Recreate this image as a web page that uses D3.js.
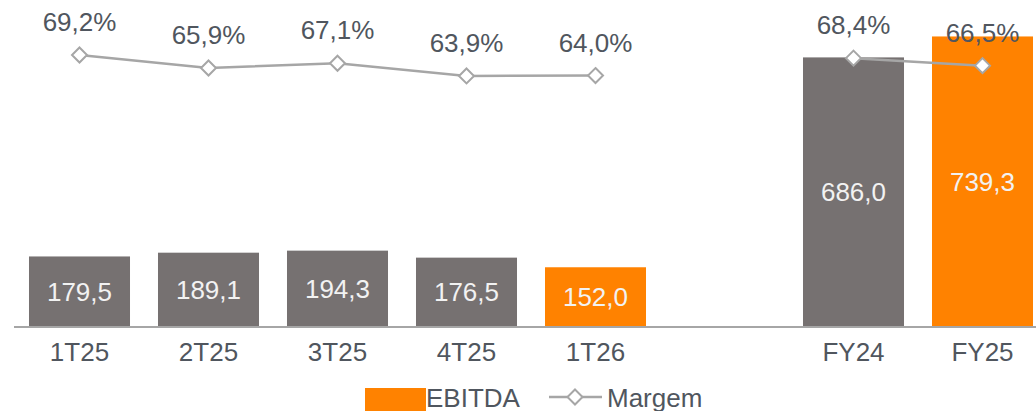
<!DOCTYPE html>
<html><head><meta charset="utf-8">
<script src="https://cdn.jsdelivr.net/npm/d3@7"></script>
<style>body{margin:0;background:#fff}svg{display:block;font-family:"Liberation Sans",Arial,sans-serif}</style>
</head><body>
<svg id="c" width="1036" height="411"></svg>
<script>
const categories = ["1T25","2T25","3T25","4T25","1T26","","FY24","FY25"];
const ebitda = [179.5,189.1,194.3,176.5,152.0,null,686.0,739.3];
const margem = [69.2,65.9,67.1,63.9,64.0,null,68.4,66.5];
const highlight = [false,false,false,false,true,false,false,true];
const labelsEbitda = ["179,5","189,1","194,3","176,5","152,0","","686,0","739,3"];
const labelsMargem = ["69,2%","65,9%","67,1%","63,9%","64,0%","","68,4%","66,5%"];
const legendLabels = ["EBITDA","Margem"];

const GRAY="#767171", ORANGE="#FF8200", LINE="#A6A6A6", TXT="#50565E", FS=26;
const svg = d3.select("#c");
const x = d3.scaleBand().domain(categories).range([15,1047]).paddingInner(0.217).paddingOuter(0.1085);
const y = d3.scaleLinear().domain([0,800]).range([327,12.6]);
const y2 = d3.scaleLinear().domain([60,70]).range([91.4,51.8]);
const data = categories.map((c,i)=>({c,v:ebitda[i],m:margem[i],h:highlight[i],lv:labelsEbitda[i],lm:labelsMargem[i]})).filter(d=>d.v!=null);

svg.selectAll("rect.bar").data(data).join("rect").attr("class","bar")
  .attr("x",d=>x(d.c)).attr("width",x.bandwidth())
  .attr("y",d=>y(d.v)).attr("height",d=>y(0)-y(d.v))
  .attr("fill",d=>d.h?ORANGE:GRAY);

svg.append("line").attr("x1",14).attr("x2",1036).attr("y1",y(0)).attr("y2",y(0))
  .attr("stroke","#A6A6A6").attr("stroke-width",2);

svg.selectAll("text.bv").data(data).join("text").attr("class","bv")
  .attr("x",d=>x(d.c)+x.bandwidth()/2).attr("y",d=>(y(d.v)+y(0))/2)
  .attr("dy","0.35em").attr("text-anchor","middle").attr("font-size",FS)
  .attr("fill","#F2F2F2").text(d=>d.lv);

svg.selectAll("text.cat").data(data).join("text").attr("class","cat")
  .attr("x",d=>x(d.c)+x.bandwidth()/2).attr("y",360.5)
  .attr("text-anchor","middle").attr("font-size",FS).attr("fill",TXT).text(d=>d.c);

const cx = d=>x(d.c)+x.bandwidth()/2;
const line = d3.line().x(cx).y(d=>y2(d.m));
const segs = [data.slice(0,5), data.slice(5)];
segs.forEach(s=>svg.append("path").attr("d",line(s)).attr("fill","none").attr("stroke",LINE).attr("stroke-width",2.5));

const diamond = (px,py,r)=>`M${px},${py-r}L${px+r},${py}L${px},${py+r}L${px-r},${py}Z`;
svg.selectAll("path.mk").data(data).join("path").attr("class","mk")
  .attr("d",d=>diamond(cx(d),y2(d.m),7.5)).attr("fill","#fff").attr("stroke",LINE).attr("stroke-width",2);

svg.selectAll("text.ml").data(data).join("text").attr("class","ml")
  .attr("x",cx).attr("y",d=>y2(d.m)-24)
  .attr("text-anchor","middle").attr("font-size",FS).attr("fill",TXT).text(d=>d.lm);

// legend
const lg = svg.append("g");
lg.append("rect").attr("x",365).attr("y",388).attr("width",61).attr("height",23).attr("fill",ORANGE);
lg.append("text").attr("x",426).attr("y",406.5).attr("font-size",FS).attr("fill",TXT).text(legendLabels[0]);
lg.append("line").attr("x1",549).attr("x2",602).attr("y1",397).attr("y2",397).attr("stroke",LINE).attr("stroke-width",2.5);
lg.append("path").attr("d",diamond(575,397,7.5)).attr("fill","#fff").attr("stroke",LINE).attr("stroke-width",2);
lg.append("text").attr("x",607).attr("y",406.5).attr("font-size",FS).attr("fill",TXT).text(legendLabels[1]);
</script>
</body></html>
